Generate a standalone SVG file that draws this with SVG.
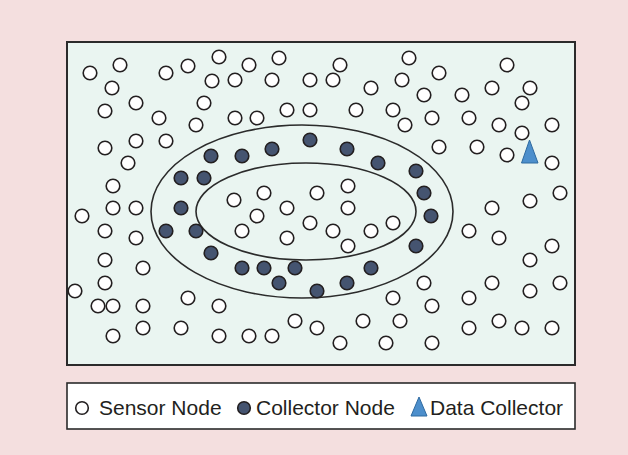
<svg xmlns="http://www.w3.org/2000/svg" width="628" height="455" viewBox="0 0 628 455">
  <style>
    .bg { fill: #f4dfdf; }
    .field { fill: #eaf5f1; stroke: #2b2b2b; stroke-width: 2; }
    .legend-box { fill: #ffffff; stroke: #2b2b2b; stroke-width: 1.6; }
    .ring { fill: none; stroke: #2b2b2b; stroke-width: 1.6; }
    .s circle { fill: #ffffff; stroke: #231f20; stroke-width: 1.6; }
    .c circle { fill: #455470; stroke: #231f20; stroke-width: 1.6; }
    .dc polygon { fill: #4d8fcc; stroke: #2f6aa0; stroke-width: 1; }
    .lbl { font-family: "Liberation Sans", Arial, Helvetica, sans-serif; font-size: 21px; fill: #231f20; }
  </style>

  <rect class="bg" x="0" y="0" width="628" height="455"/>
  <rect class="field" x="67" y="42" width="508" height="323"/>

  <!-- collection zones -->
  <g id="rings">
    <ellipse class="ring" cx="302" cy="211.5" rx="151" ry="86.5"/>
    <ellipse class="ring" cx="306" cy="211.5" rx="110" ry="48.5"/>
  </g>

  <!-- sensor nodes -->
  <g id="sensors" class="s">
    <g id="s1"><circle cx="219" cy="57" r="6.8"/></g>
    <g id="s2"><circle cx="279" cy="58" r="6.8"/></g>
    <g id="s3"><circle cx="409" cy="58" r="6.8"/></g>
    <g id="s4"><circle cx="120" cy="65" r="6.8"/></g>
    <g id="s5"><circle cx="188" cy="66" r="6.8"/></g>
    <g id="s6"><circle cx="249" cy="65" r="6.8"/></g>
    <g id="s7"><circle cx="340" cy="65" r="6.8"/></g>
    <g id="s8"><circle cx="507" cy="65" r="6.8"/></g>
    <g id="s9"><circle cx="90" cy="73" r="6.8"/></g>
    <g id="s10"><circle cx="166" cy="73" r="6.8"/></g>
    <g id="s11"><circle cx="439" cy="73" r="6.8"/></g>
    <g id="s12"><circle cx="212" cy="81" r="6.8"/></g>
    <g id="s13"><circle cx="235" cy="80" r="6.8"/></g>
    <g id="s14"><circle cx="272" cy="80" r="6.8"/></g>
    <g id="s15"><circle cx="310" cy="80" r="6.8"/></g>
    <g id="s16"><circle cx="333" cy="80" r="6.8"/></g>
    <g id="s17"><circle cx="402" cy="80" r="6.8"/></g>
    <g id="s18"><circle cx="112" cy="88" r="6.8"/></g>
    <g id="s19"><circle cx="371" cy="88" r="6.8"/></g>
    <g id="s20"><circle cx="492" cy="88" r="6.8"/></g>
    <g id="s21"><circle cx="530" cy="88" r="6.8"/></g>
    <g id="s22"><circle cx="424" cy="95" r="6.8"/></g>
    <g id="s23"><circle cx="462" cy="95" r="6.8"/></g>
    <g id="s24"><circle cx="136" cy="103" r="6.8"/></g>
    <g id="s25"><circle cx="204" cy="103" r="6.8"/></g>
    <g id="s26"><circle cx="522" cy="103" r="6.8"/></g>
    <g id="s27"><circle cx="105" cy="111" r="6.8"/></g>
    <g id="s28"><circle cx="287" cy="110" r="6.8"/></g>
    <g id="s29"><circle cx="310" cy="110" r="6.8"/></g>
    <g id="s30"><circle cx="356" cy="110" r="6.8"/></g>
    <g id="s31"><circle cx="393" cy="110" r="6.8"/></g>
    <g id="s32"><circle cx="159" cy="118" r="6.8"/></g>
    <g id="s33"><circle cx="235" cy="118" r="6.8"/></g>
    <g id="s34"><circle cx="257" cy="118" r="6.8"/></g>
    <g id="s35"><circle cx="432" cy="118" r="6.8"/></g>
    <g id="s36"><circle cx="469" cy="118" r="6.8"/></g>
    <g id="s37"><circle cx="196" cy="125" r="6.8"/></g>
    <g id="s38"><circle cx="405" cy="125" r="6.8"/></g>
    <g id="s39"><circle cx="499" cy="125" r="6.8"/></g>
    <g id="s40"><circle cx="552" cy="125" r="6.8"/></g>
    <g id="s41"><circle cx="522" cy="133" r="6.8"/></g>
    <g id="s42"><circle cx="136" cy="141" r="6.8"/></g>
    <g id="s43"><circle cx="166" cy="141" r="6.8"/></g>
    <g id="s44"><circle cx="105" cy="148" r="6.8"/></g>
    <g id="s45"><circle cx="439" cy="147" r="6.8"/></g>
    <g id="s46"><circle cx="477" cy="147" r="6.8"/></g>
    <g id="s47"><circle cx="507" cy="155" r="6.8"/></g>
    <g id="s48"><circle cx="128" cy="163" r="6.8"/></g>
    <g id="s49"><circle cx="552" cy="163" r="6.8"/></g>
    <g id="s50"><circle cx="113" cy="186" r="6.8"/></g>
    <g id="s51"><circle cx="560" cy="193" r="6.8"/></g>
    <g id="s52"><circle cx="264" cy="193" r="6.8"/></g>
    <g id="s53"><circle cx="317" cy="193" r="6.8"/></g>
    <g id="s54"><circle cx="348" cy="186" r="6.8"/></g>
    <g id="s55"><circle cx="530" cy="201" r="6.8"/></g>
    <g id="s56"><circle cx="234" cy="200" r="6.8"/></g>
    <g id="s57"><circle cx="113" cy="208" r="6.8"/></g>
    <g id="s58"><circle cx="136" cy="208" r="6.8"/></g>
    <g id="s59"><circle cx="287" cy="208" r="6.8"/></g>
    <g id="s60"><circle cx="348" cy="208" r="6.8"/></g>
    <g id="s61"><circle cx="492" cy="208" r="6.8"/></g>
    <g id="s62"><circle cx="82" cy="216" r="6.8"/></g>
    <g id="s63"><circle cx="257" cy="216" r="6.8"/></g>
    <g id="s64"><circle cx="310" cy="223" r="6.8"/></g>
    <g id="s65"><circle cx="393" cy="223" r="6.8"/></g>
    <g id="s66"><circle cx="105" cy="231" r="6.8"/></g>
    <g id="s67"><circle cx="242" cy="231" r="6.8"/></g>
    <g id="s68"><circle cx="333" cy="231" r="6.8"/></g>
    <g id="s69"><circle cx="371" cy="231" r="6.8"/></g>
    <g id="s70"><circle cx="469" cy="231" r="6.8"/></g>
    <g id="s71"><circle cx="136" cy="238" r="6.8"/></g>
    <g id="s72"><circle cx="287" cy="238" r="6.8"/></g>
    <g id="s73"><circle cx="499" cy="238" r="6.8"/></g>
    <g id="s74"><circle cx="348" cy="246" r="6.8"/></g>
    <g id="s75"><circle cx="552" cy="246" r="6.8"/></g>
    <g id="s76"><circle cx="105" cy="260" r="6.8"/></g>
    <g id="s77"><circle cx="530" cy="260" r="6.8"/></g>
    <g id="s78"><circle cx="143" cy="268" r="6.8"/></g>
    <g id="s79"><circle cx="105" cy="283" r="6.8"/></g>
    <g id="s80"><circle cx="424" cy="283" r="6.8"/></g>
    <g id="s81"><circle cx="492" cy="283" r="6.8"/></g>
    <g id="s82"><circle cx="560" cy="283" r="6.8"/></g>
    <g id="s83"><circle cx="75" cy="291" r="6.8"/></g>
    <g id="s84"><circle cx="530" cy="291" r="6.8"/></g>
    <g id="s85"><circle cx="188" cy="298" r="6.8"/></g>
    <g id="s86"><circle cx="393" cy="298" r="6.8"/></g>
    <g id="s87"><circle cx="469" cy="298" r="6.8"/></g>
    <g id="s88"><circle cx="98" cy="306" r="6.8"/></g>
    <g id="s89"><circle cx="113" cy="306" r="6.8"/></g>
    <g id="s90"><circle cx="143" cy="306" r="6.8"/></g>
    <g id="s91"><circle cx="219" cy="306" r="6.8"/></g>
    <g id="s92"><circle cx="432" cy="306" r="6.8"/></g>
    <g id="s93"><circle cx="295" cy="321" r="6.8"/></g>
    <g id="s94"><circle cx="363" cy="321" r="6.8"/></g>
    <g id="s95"><circle cx="400" cy="321" r="6.8"/></g>
    <g id="s96"><circle cx="499" cy="321" r="6.8"/></g>
    <g id="s97"><circle cx="143" cy="328" r="6.8"/></g>
    <g id="s98"><circle cx="181" cy="328" r="6.8"/></g>
    <g id="s99"><circle cx="317" cy="328" r="6.8"/></g>
    <g id="s100"><circle cx="469" cy="328" r="6.8"/></g>
    <g id="s101"><circle cx="522" cy="328" r="6.8"/></g>
    <g id="s102"><circle cx="552" cy="328" r="6.8"/></g>
    <g id="s103"><circle cx="113" cy="336" r="6.8"/></g>
    <g id="s104"><circle cx="219" cy="336" r="6.8"/></g>
    <g id="s105"><circle cx="249" cy="336" r="6.8"/></g>
    <g id="s106"><circle cx="272" cy="336" r="6.8"/></g>
    <g id="s107"><circle cx="340" cy="343" r="6.8"/></g>
    <g id="s108"><circle cx="386" cy="343" r="6.8"/></g>
    <g id="s109"><circle cx="432" cy="343" r="6.8"/></g>
  </g>

  <!-- collector nodes along the ring band -->
  <g id="collectors" class="c">
    <g id="c1"><circle cx="211" cy="156" r="6.8"/></g>
    <g id="c2"><circle cx="242" cy="156" r="6.8"/></g>
    <g id="c3"><circle cx="272" cy="149" r="6.8"/></g>
    <g id="c4"><circle cx="310" cy="140" r="6.8"/></g>
    <g id="c5"><circle cx="347" cy="149" r="6.8"/></g>
    <g id="c6"><circle cx="378" cy="163" r="6.8"/></g>
    <g id="c7"><circle cx="416" cy="171" r="6.8"/></g>
    <g id="c8"><circle cx="424" cy="193" r="6.8"/></g>
    <g id="c9"><circle cx="431" cy="216" r="6.8"/></g>
    <g id="c10"><circle cx="416" cy="246" r="6.8"/></g>
    <g id="c11"><circle cx="371" cy="268" r="6.8"/></g>
    <g id="c12"><circle cx="347" cy="283" r="6.8"/></g>
    <g id="c13"><circle cx="317" cy="291" r="6.8"/></g>
    <g id="c14"><circle cx="295" cy="268" r="6.8"/></g>
    <g id="c15"><circle cx="279" cy="283" r="6.8"/></g>
    <g id="c16"><circle cx="264" cy="268" r="6.8"/></g>
    <g id="c17"><circle cx="242" cy="268" r="6.8"/></g>
    <g id="c18"><circle cx="211" cy="253" r="6.8"/></g>
    <g id="c19"><circle cx="196" cy="231" r="6.8"/></g>
    <g id="c20"><circle cx="166" cy="231" r="6.8"/></g>
    <g id="c21"><circle cx="181" cy="208" r="6.8"/></g>
    <g id="c22"><circle cx="181" cy="178" r="6.8"/></g>
    <g id="c23"><circle cx="204" cy="178" r="6.8"/></g>
  </g>

  <!-- data collector -->
  <g id="data-collector" class="dc">
    <polygon points="529.5,140 521.5,163 538,163"/>
  </g>

  <!-- legend -->
  <g id="legend">
    <rect class="legend-box" x="67" y="383" width="508" height="46"/>
    <g class="s"><circle cx="82" cy="408" r="6.3"/></g>
    <text class="lbl" x="99" y="414.5">Sensor Node</text>
    <g class="c"><circle cx="244" cy="408" r="6.3"/></g>
    <text class="lbl" x="256" y="414.5">Collector Node</text>
    <g class="dc"><polygon points="419,397 411,416 427,416"/></g>
    <text class="lbl" x="430" y="414.5">Data Collector</text>
  </g>
</svg>
